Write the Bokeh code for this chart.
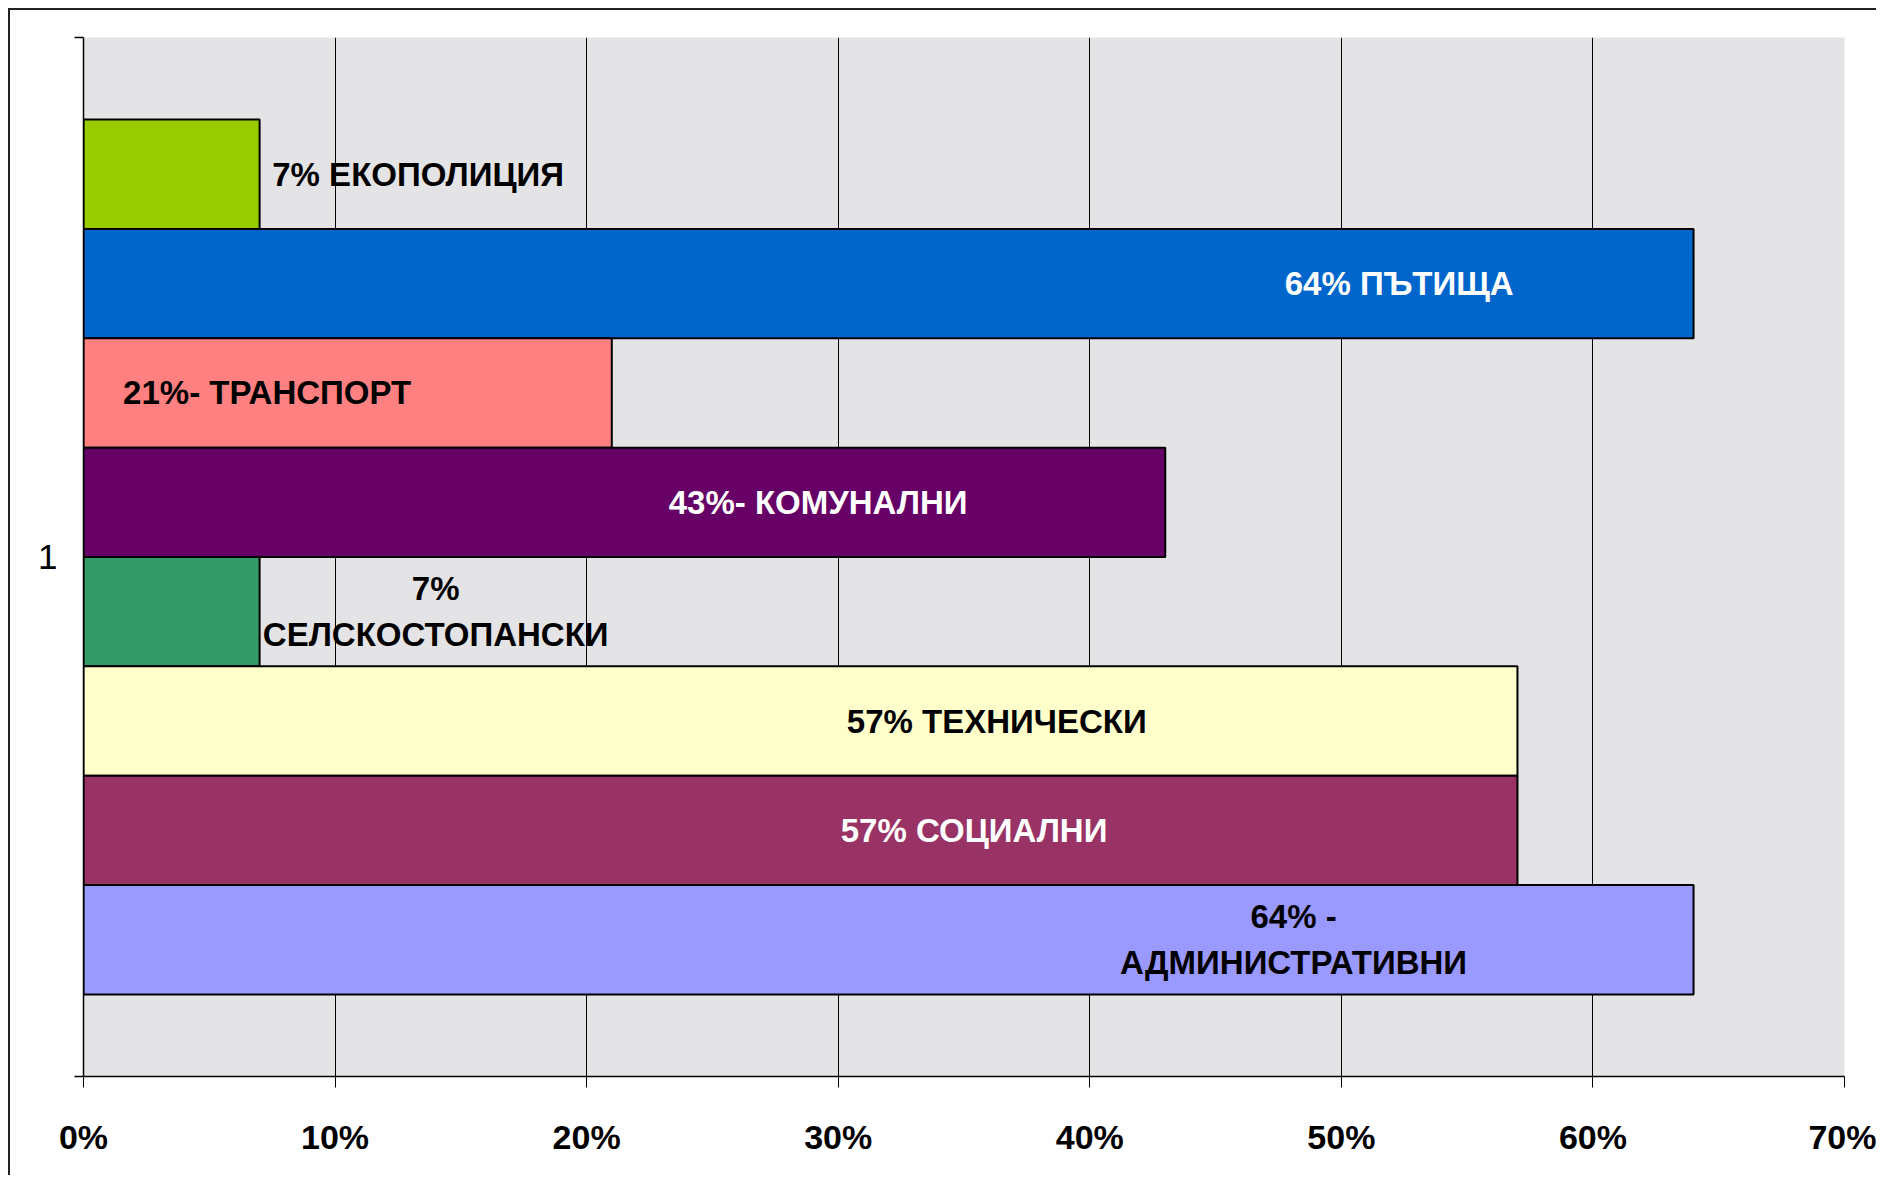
from bokeh.plotting import figure
from bokeh.models import ColumnDataSource, Range1d, FixedTicker, PrintfTickFormatter
from bokeh.core.properties import value
from bokeh.embed import file_html
from bokeh.resources import INLINE

# ---- data ----
categories = ["ЕКОПОЛИЦИЯ", "ПЪТИЩА", "ТРАНСПОРТ", "КОМУНАЛНИ",
              "СЕЛСКОСТОПАНСКИ", "ТЕХНИЧЕСКИ", "СОЦИАЛНИ", "АДМИНИСТРАТИВНИ"]
values = [7, 64, 21, 43, 7, 57, 57, 64]
bar_colors = ["#99CC00", "#0066CC", "#FF8080", "#660066",
              "#339966", "#FFFFCC", "#993366", "#9999FF"]
label_texts = ["7% ЕКОПОЛИЦИЯ", "64% ПЪТИЩА", "21%- ТРАНСПОРТ", "43%- КОМУНАЛНИ",
               "7%\nСЕЛСКОСТОПАНСКИ", "57% ТЕХНИЧЕСКИ", "57% СОЦИАЛНИ",
               "64% -\nАДМИНИСТРАТИВНИ"]
label_colors = ["black", "white", "black", "white", "black", "black", "white", "black"]
x_ticks = [0, 10, 20, 30, 40, 50, 60, 70]
group_label = "1"

# ---- layout (label anchor positions, in % units) ----
label_x = [13.3, 52.3, 7.3, 29.2, 14.0, 36.3, 35.4, 48.1]

n = len(categories)
gap = 1.5  # Excel gap width 150%
y_pos = [gap / 2 + 0.5 + i for i in range(n)]
y_total = n + gap

src = ColumnDataSource(dict(y=y_pos, v=values, c=bar_colors, t=label_texts,
                            lx=label_x, tc=label_colors, cat=categories))

FONT = "Liberation Sans"

p = figure(output_backend="svg", toolbar_location=None,
           frame_width=1761, frame_height=1039,
           x_range=Range1d(0, 70), y_range=Range1d(y_total, 0),
           min_border_left=73, min_border_top=27, min_border_right=32,
           min_border_bottom=99)
p.styles = {"margin-left": "8px", "margin-top": "8px",
            "border-left": "2px solid #222222", "border-top": "2px solid #222222"}

p.background_fill_color = "#e4e4e6"
p.border_fill_color = "white"
p.outline_line_color = None

p.hbar(y="y", left=0, right="v", height=1, source=src,
       fill_color="c", line_color="black", line_width=2)

p.text(x="lx", y="y", text="t", source=src, text_align="center",
       text_baseline="middle", text_color="tc",
       text_font=value(FONT), text_font_style="bold", text_font_size="33px",
       text_line_height=1.25)

# x axis
p.xaxis.ticker = FixedTicker(ticks=x_ticks)
p.xaxis.formatter = PrintfTickFormatter(format="%d%%")
p.xaxis.major_label_text_font = FONT
p.xaxis.major_label_text_font_style = "bold"
p.xaxis.major_label_text_font_size = "34px"
p.xaxis.major_label_text_color = "black"
p.xaxis.major_label_standoff = 30
p.xaxis.major_tick_out = 11
p.xaxis.major_tick_in = 0
p.xaxis.minor_tick_line_color = None
p.xaxis.axis_line_color = "black"
p.xaxis.axis_line_width = 1.5
p.xaxis.major_tick_line_color = "black"

# y axis
mid = y_total / 2
p.yaxis.ticker = FixedTicker(ticks=[mid], minor_ticks=[0, y_total])
p.yaxis.major_label_overrides = {mid: group_label}
p.yaxis.major_tick_out = 0
p.yaxis.major_tick_in = 0
p.yaxis.minor_tick_out = 9
p.yaxis.minor_tick_in = 0
p.yaxis.minor_tick_line_color = "black"
p.yaxis.minor_tick_line_width = 1.5
p.yaxis.major_label_text_font = FONT
p.yaxis.major_label_text_font_style = "normal"
p.yaxis.major_label_text_font_size = "35px"
p.yaxis.major_label_text_color = "black"
p.yaxis.major_label_standoff = 17
p.yaxis.major_label_orientation = "horizontal"
p.yaxis.axis_line_color = "black"
p.yaxis.axis_line_width = 1.5

# grid
p.xgrid.ticker = FixedTicker(ticks=x_ticks)
p.xgrid.grid_line_color = "black"
p.xgrid.grid_line_width = 1
p.ygrid.grid_line_color = None

open("out.html", "w").write(file_html(p, INLINE))
